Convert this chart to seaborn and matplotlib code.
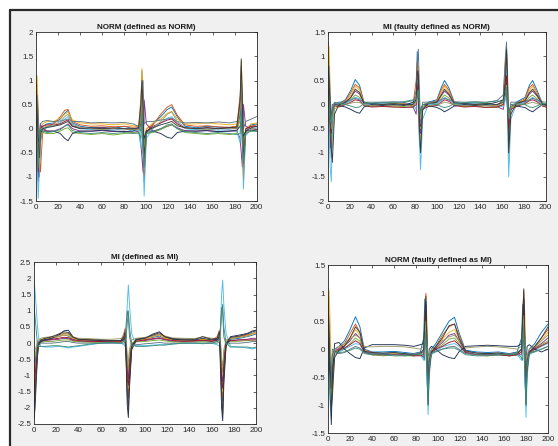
import numpy as np
import pandas as pd
import matplotlib
matplotlib.use("Agg")
import matplotlib.pyplot as plt
import seaborn as sns
from matplotlib.patches import Rectangle
from matplotlib.lines import Line2D

# ---------------- data ----------------
titles = ["NORM (defined as NORM)", "MI (faulty defined as NORM)",
          "MI (defined as MI)", "NORM (faulty defined as MI)"]

x1 = [0, 1, 2, 3, 4, 6, 10, 16, 22, 26, 29, 33, 40, 50, 60, 70, 80, 88, 93, 95, 96, 97, 98, 100, 106, 113, 119, 123, 128, 135, 145, 155, 165, 175, 182, 185, 186, 187, 188, 190, 195, 200]
p1_leads = [
    [1.05, 0.6, -0.4, -1.0, -0.3, 0.05, 0.1, 0.12, 0.2, 0.32, 0.38, 0.12, 0.05, 0.02, 0.03, 0.0, 0.05, 0.0, 0.02, 0.3, 1.2, 0.2, -1.1, -0.1, 0.1, 0.25, 0.4, 0.45, 0.25, 0.05, 0.02, 0.05, 0.03, 0.02, 0.05, 0.5, 1.3, 0.1, -0.9, -0.05, 0.08, 0.1],
    [0.6, 0.9, 0.2, -0.6, -0.9, -0.1, 0.05, 0.1, 0.25, 0.38, 0.4, 0.15, 0.08, 0.05, 0.06, 0.04, 0.05, 0.03, 0.05, 0.6, 1.1, -0.5, -0.7, 0.0, 0.08, 0.3, 0.45, 0.5, 0.28, 0.08, 0.05, 0.06, 0.04, 0.03, 0.05, 0.7, 1.2, -0.3, -0.6, 0.0, 0.05, 0.08],
    [0.9, 1.1, 0.4, -0.5, -0.2, 0.1, 0.15, 0.15, 0.22, 0.3, 0.35, 0.18, 0.12, 0.1, 0.1, 0.08, 0.1, 0.06, 0.05, 0.4, 1.25, 0.6, -0.5, 0.0, 0.12, 0.2, 0.32, 0.36, 0.2, 0.1, 0.1, 0.12, 0.1, 0.08, 0.1, 0.4, 1.4, 0.9, -0.4, 0.0, 0.1, 0.12],
    [-0.3, -0.8, -1.1, -0.6, 0.1, 0.0, -0.05, -0.05, 0.0, 0.05, 0.1, 0.0, -0.05, -0.05, -0.04, -0.06, -0.05, -0.08, -0.05, -0.3, -0.6, -0.9, 0.6, 0.1, -0.05, 0.0, 0.05, 0.08, 0.02, -0.04, -0.05, -0.04, -0.06, -0.05, -0.05, -0.2, -0.5, -0.8, 0.5, 0.05, 0.0, -0.02],
    [0.3, 0.5, 0.1, -0.3, -0.1, -0.08, -0.1, -0.1, -0.05, 0.0, 0.02, -0.08, -0.1, -0.12, -0.1, -0.13, -0.1, -0.08, -0.1, 0.1, 0.5, 0.3, -0.3, -0.1, -0.08, -0.02, 0.05, 0.08, 0.0, -0.08, -0.1, -0.12, -0.1, -0.12, -0.1, 0.2, 0.6, 0.2, -0.2, -0.05, -0.05, -0.03],
    [0.0, -0.6, -1.45, -0.9, -0.2, 0.0, 0.02, 0.05, 0.12, 0.2, 0.25, 0.08, 0.0, -0.02, 0.0, -0.03, 0.0, -0.05, -0.03, -0.4, 0.6, -0.5, -1.4, -0.2, 0.0, 0.12, 0.22, 0.25, 0.12, 0.0, -0.02, 0.0, -0.03, -0.02, -0.05, -0.3, 0.8, -0.4, -1.25, -0.15, 0.0, 0.02],
    [0.5, -0.2, -0.9, -0.4, 0.0, 0.05, 0.08, 0.08, 0.1, 0.15, 0.18, 0.05, 0.02, 0.0, 0.02, 0.0, 0.0, -0.02, 0.0, 0.2, 0.7, -0.3, -0.95, -0.05, 0.05, 0.12, 0.18, 0.2, 0.1, 0.02, 0.0, 0.02, 0.0, 0.02, 0.0, 0.3, 0.95, -0.1, -0.8, 0.0, 0.05, 0.05],
    [0.2, 0.1, -0.2, -0.3, 0.0, -0.05, -0.05, -0.05, -0.1, -0.2, -0.25, -0.1, -0.05, -0.05, -0.03, -0.05, -0.06, -0.05, 0.0, 0.1, 0.2, 0.0, -0.2, -0.05, -0.05, -0.1, -0.18, -0.2, -0.08, -0.05, -0.05, -0.04, -0.06, -0.05, -0.03, 0.05, 0.15, -0.1, -0.15, -0.05, -0.03, -0.05],
    [0.4, 0.7, 0.3, -0.2, 0.1, 0.15, 0.17, 0.15, 0.16, 0.18, 0.2, 0.15, 0.15, 0.12, 0.13, 0.12, 0.13, 0.1, 0.05, -0.05, 0.9, 1.0, 0.1, 0.15, 0.15, 0.18, 0.2, 0.22, 0.15, 0.12, 0.13, 0.12, 0.14, 0.12, 0.15, 0.25, 1.1, 0.7, 0.0, 0.15, 0.2, 0.25],
    [0.7, 0.2, -0.5, -0.8, -0.2, 0.02, 0.05, 0.08, 0.15, 0.25, 0.3, 0.1, 0.02, 0.0, -0.02, 0.0, 0.0, -0.02, -0.02, 0.2, 0.9, 0.0, -1.0, -0.1, 0.02, 0.15, 0.3, 0.35, 0.15, 0.02, 0.0, -0.02, 0.0, 0.0, 0.0, 0.4, 1.15, -0.2, -1.05, -0.1, 0.0, 0.0],
    [0.8, 0.4, -0.3, -0.6, -0.1, 0.0, 0.03, 0.05, 0.08, 0.12, 0.15, 0.05, 0.0, 0.02, 0.0, 0.02, 0.0, 0.0, 0.02, 0.5, 1.0, 0.4, -0.6, -0.05, 0.02, 0.08, 0.12, 0.15, 0.06, 0.02, 0.0, 0.02, 0.0, 0.02, 0.03, 0.6, 1.45, 0.5, -0.7, -0.05, 0.02, 0.05],
    [-0.1, -0.4, -0.8, -0.3, 0.0, -0.05, -0.08, -0.06, -0.02, 0.05, 0.08, -0.04, -0.08, -0.1, -0.08, -0.1, -0.08, -0.1, -0.08, -0.2, 0.3, -0.4, -0.8, -0.1, -0.06, 0.0, 0.08, 0.1, 0.0, -0.06, -0.08, -0.1, -0.08, -0.1, -0.12, -0.1, 0.4, -0.3, -0.7, -0.1, -0.05, -0.05],
]

x2 = [0, 1, 2, 3, 4, 6, 10, 16, 21, 25, 29, 33, 40, 50, 60, 70, 78, 81, 82, 83, 84, 85, 87, 92, 100, 104, 107, 111, 116, 125, 135, 145, 155, 161, 163, 164, 165, 166, 168, 173, 181, 185, 188, 192, 197, 200]
p2_leads = [
    [0.5, 0.2, -0.6, -1.1, -0.4, 0.0, 0.02, 0.1, 0.3, 0.52, 0.4, 0.05, 0.02, 0.03, 0.02, 0.04, 0.0, 0.3, 1.1, 0.2, -0.8, -0.9, -0.1, 0.05, 0.1, 0.35, 0.5, 0.35, 0.05, 0.02, 0.03, 0.02, 0.0, 0.05, 0.6, 1.25, 0.1, -0.9, -0.1, 0.05, 0.15, 0.4, 0.5, 0.3, 0.02, 0.0],
    [1.3, 0.6, -0.3, -0.8, -0.5, -0.05, 0.0, 0.08, 0.25, 0.42, 0.35, 0.05, 0.0, 0.02, 0.0, 0.02, -0.02, 0.5, 0.9, -0.2, -0.6, -0.3, 0.0, 0.03, 0.08, 0.3, 0.42, 0.3, 0.04, 0.0, 0.02, 0.0, -0.02, 0.1, 0.9, 1.0, -0.3, -0.7, -0.05, 0.03, 0.12, 0.35, 0.42, 0.25, 0.0, -0.02],
    [0.9, 1.2, 0.3, -0.4, -0.9, -0.1, 0.0, 0.06, 0.2, 0.38, 0.3, 0.04, 0.0, 0.0, 0.02, 0.0, -0.03, 0.2, 0.6, 0.8, -0.2, -0.9, -0.05, 0.02, 0.06, 0.25, 0.38, 0.25, 0.03, 0.0, 0.0, 0.02, -0.02, 0.0, 0.3, 1.1, 0.7, -1.2, -0.1, 0.02, 0.1, 0.3, 0.38, 0.22, 0.02, 0.0],
    [0.2, -0.3, -0.9, -0.5, 0.0, 0.02, 0.0, 0.05, 0.15, 0.28, 0.22, 0.03, -0.02, 0.0, -0.02, 0.0, -0.04, -0.2, 0.4, 0.7, -0.4, -0.6, 0.0, 0.0, 0.04, 0.18, 0.28, 0.2, 0.02, -0.02, 0.0, -0.02, -0.04, -0.1, 0.2, 0.9, 0.3, -0.8, -0.05, 0.0, 0.08, 0.22, 0.28, 0.18, 0.0, -0.04],
    [0.4, 0.0, -0.5, -0.7, -0.2, 0.0, -0.03, 0.02, 0.1, 0.2, 0.15, 0.0, -0.04, -0.03, -0.05, -0.04, -0.06, 0.1, 0.5, 0.4, -0.3, -0.5, -0.05, -0.03, 0.0, 0.12, 0.2, 0.14, 0.0, -0.04, -0.03, -0.05, -0.06, 0.0, 0.4, 0.8, 0.0, -0.6, -0.05, -0.03, 0.05, 0.15, 0.2, 0.12, -0.02, -0.05],
    [0.0, -0.5, -1.3, -1.6, -0.6, -0.05, 0.0, 0.03, 0.08, 0.15, 0.12, 0.02, 0.0, 0.02, 0.0, 0.0, 0.02, -0.1, 0.5, 0.1, -0.7, -1.35, -0.3, 0.0, 0.02, 0.08, 0.15, 0.1, 0.02, 0.0, 0.02, 0.0, 0.0, -0.05, 0.1, 0.8, -0.4, -1.5, -0.3, 0.0, 0.04, 0.1, 0.15, 0.08, 0.0, 0.0],
    [0.7, 0.1, -0.4, -0.6, -0.2, -0.03, -0.05, 0.0, 0.05, 0.1, 0.08, -0.02, -0.05, -0.04, -0.05, -0.06, -0.05, 0.0, 0.3, 0.5, -0.3, -0.45, -0.1, -0.04, -0.02, 0.05, 0.1, 0.07, -0.02, -0.05, -0.04, -0.06, -0.05, 0.0, 0.3, 0.6, -0.2, -0.5, -0.1, -0.04, 0.02, 0.08, 0.1, 0.06, -0.03, -0.05],
    [0.1, 0.3, 0.1, -0.3, -0.1, 0.0, -0.02, -0.05, -0.1, -0.15, -0.18, -0.05, 0.0, -0.02, 0.0, -0.02, 0.05, 0.1, 0.3, 0.1, -0.2, -0.1, 0.0, -0.02, -0.06, -0.1, -0.15, -0.1, -0.03, 0.0, -0.02, 0.0, 0.05, 0.1, 0.25, 0.3, -0.1, -0.2, 0.0, -0.03, -0.06, -0.12, -0.15, -0.08, 0.0, -0.02],
    [0.3, 0.8, 0.2, -0.3, -0.2, 0.02, 0.05, 0.06, 0.1, 0.13, 0.1, 0.05, 0.05, 0.05, 0.06, 0.05, 0.08, 0.15, 0.8, 1.15, 0.3, -0.4, 0.05, 0.05, 0.06, 0.1, 0.13, 0.1, 0.06, 0.05, 0.06, 0.05, 0.08, 0.2, 1.0, 1.3, 0.4, -0.3, 0.05, 0.05, 0.06, 0.1, 0.13, 0.1, 0.06, 0.05],
    [0.6, 0.3, -0.2, -0.5, -0.3, -0.05, 0.0, 0.0, 0.03, 0.05, 0.04, 0.0, -0.02, 0.0, -0.02, 0.0, -0.03, 0.05, 0.2, 0.3, -0.1, -0.3, -0.05, -0.02, 0.0, 0.02, 0.05, 0.03, 0.0, -0.02, 0.0, -0.02, -0.03, 0.05, 0.2, 0.4, -0.1, -0.3, -0.05, 0.0, 0.0, 0.03, 0.05, 0.02, -0.02, -0.03],
    [0.8, 0.5, -0.1, -0.9, -1.2, -0.2, 0.0, 0.04, 0.15, 0.32, 0.25, 0.03, 0.02, 0.0, 0.02, 0.0, 0.0, 0.1, 0.7, 0.6, -0.5, -1.0, -0.1, 0.02, 0.05, 0.2, 0.32, 0.22, 0.03, 0.02, 0.0, 0.02, 0.0, 0.05, 0.5, 1.15, 0.5, -1.0, -0.2, 0.02, 0.08, 0.25, 0.32, 0.2, 0.02, 0.0],
    [0.2, 0.0, -0.3, -0.4, -0.1, 0.05, 0.03, 0.0, -0.03, -0.06, -0.05, 0.02, 0.03, 0.05, 0.04, 0.06, 0.1, 0.05, 0.2, 0.3, 0.0, -0.2, 0.0, 0.03, 0.0, -0.04, -0.06, -0.04, 0.02, 0.04, 0.05, 0.04, 0.08, 0.05, 0.2, 0.35, 0.0, -0.25, 0.0, 0.02, 0.0, -0.05, -0.06, -0.03, 0.03, 0.02],
]

x3 = [0, 1, 2, 3, 4, 6, 10, 16, 22, 27, 31, 35, 40, 50, 60, 70, 78, 81, 82, 83, 84, 85, 86, 88, 92, 100, 107, 113, 118, 125, 135, 145, 152, 160, 165, 167, 168, 169, 170, 171, 173, 177, 185, 192, 197, 200]
p3_leads = [
    [-1.6, -1.0, -0.5, -0.2, 0.0, 0.08, 0.12, 0.15, 0.2, 0.25, 0.22, 0.12, 0.1, 0.08, 0.06, 0.05, 0.05, 0.2, 0.1, -0.5, -1.5, -1.7, -0.9, -0.1, 0.1, 0.12, 0.18, 0.22, 0.15, 0.1, 0.08, 0.08, 0.1, 0.05, 0.1, 0.2, -0.5, -1.5, -1.8, -0.8, 0.0, 0.12, 0.15, 0.2, 0.25, 0.28],
    [-1.8, -1.4, -0.8, -0.3, 0.0, 0.1, 0.15, 0.18, 0.25, 0.3, 0.28, 0.15, 0.12, 0.1, 0.08, 0.06, 0.05, 0.3, 0.45, 0.2, -0.8, -1.6, -1.2, -0.2, 0.12, 0.15, 0.22, 0.28, 0.18, 0.12, 0.1, 0.08, 0.12, 0.08, 0.2, 0.4, 0.1, -1.0, -1.7, -1.0, -0.1, 0.15, 0.2, 0.25, 0.3, 0.32],
    [-1.2, -0.8, -0.3, 0.0, 0.05, 0.1, 0.15, 0.16, 0.2, 0.25, 0.25, 0.14, 0.1, 0.08, 0.07, 0.05, 0.06, 0.2, 0.3, -0.2, -1.2, -1.4, -0.6, 0.0, 0.1, 0.12, 0.2, 0.25, 0.15, 0.1, 0.09, 0.1, 0.12, 0.1, 0.15, 0.3, -0.3, -1.3, -1.5, -0.5, 0.05, 0.15, 0.18, 0.22, 0.28, 0.3],
    [-0.9, -0.6, -0.3, -0.1, 0.0, 0.05, 0.08, 0.1, 0.12, 0.15, 0.14, 0.08, 0.05, 0.05, 0.04, 0.03, 0.03, 0.1, 0.2, 0.0, -0.9, -1.1, -0.5, -0.05, 0.05, 0.08, 0.12, 0.15, 0.1, 0.06, 0.05, 0.06, 0.08, 0.05, 0.08, 0.15, -0.2, -1.0, -1.2, -0.4, 0.0, 0.08, 0.1, 0.12, 0.15, 0.15],
    [-0.6, -0.4, -0.2, -0.05, 0.0, 0.02, 0.05, 0.05, 0.08, 0.1, 0.1, 0.06, 0.04, 0.03, 0.02, 0.02, 0.02, 0.08, 0.15, 0.0, -0.6, -0.8, -0.3, 0.0, 0.04, 0.05, 0.08, 0.1, 0.07, 0.04, 0.03, 0.04, 0.05, 0.03, 0.05, 0.1, -0.1, -0.7, -0.9, -0.3, 0.0, 0.05, 0.06, 0.08, 0.1, 0.1],
    [2.0, 1.6, 1.1, 0.6, 0.2, -0.1, -0.12, -0.12, -0.1, -0.12, -0.15, -0.12, -0.1, -0.05, 0.0, 0.0, 0.0, -0.05, -0.1, 0.3, 1.2, 1.8, 1.2, 0.3, -0.08, -0.08, -0.06, -0.05, -0.05, -0.02, 0.0, 0.0, -0.02, 0.0, -0.05, -0.1, 0.5, 1.5, 1.95, 1.2, 0.3, -0.1, -0.12, -0.15, -0.18, -0.15],
    [-1.4, -1.0, -0.6, -0.2, 0.0, 0.05, 0.1, 0.12, 0.15, 0.18, 0.17, 0.1, 0.08, 0.06, 0.05, 0.04, 0.04, 0.15, 0.25, 0.0, -1.1, -1.3, -0.7, -0.05, 0.06, 0.1, 0.14, 0.17, 0.12, 0.08, 0.06, 0.07, 0.09, 0.06, 0.1, 0.25, -0.2, -1.2, -1.4, -0.6, 0.0, 0.08, 0.1, 0.1, 0.1, 0.1],
    [-2.35, -2.0, -1.2, -0.5, -0.1, 0.05, 0.1, 0.15, 0.25, 0.38, 0.4, 0.2, 0.12, 0.1, 0.08, 0.07, 0.08, 0.1, 0.2, -0.6, -1.9, -2.3, -1.4, -0.2, 0.1, 0.15, 0.28, 0.35, 0.2, 0.12, 0.1, 0.1, 0.15, 0.1, 0.12, 0.2, -0.8, -2.0, -2.4, -1.3, -0.1, 0.2, 0.25, 0.3, 0.38, 0.4],
    [-0.5, -0.6, -0.4, -0.1, 0.05, 0.0, 0.0, 0.0, 0.02, 0.05, 0.05, 0.02, 0.0, 0.0, 0.0, 0.0, 0.0, 0.05, 0.1, 0.6, 1.0, 0.8, 0.2, -0.1, -0.05, -0.02, 0.0, 0.02, 0.0, 0.0, 0.0, 0.0, 0.0, 0.0, 0.05, 0.1, 0.5, 1.1, 0.9, 0.2, -0.05, 0.0, 0.0, 0.02, 0.05, 0.05],
    [-0.3, -0.2, -0.1, 0.05, 0.1, 0.15, 0.18, 0.2, 0.22, 0.28, 0.3, 0.2, 0.15, 0.14, 0.12, 0.12, 0.14, 0.2, 0.35, 0.2, -0.4, -0.6, -0.2, 0.1, 0.15, 0.18, 0.22, 0.26, 0.22, 0.16, 0.15, 0.14, 0.2, 0.15, 0.15, 0.3, 0.0, -0.5, -0.7, -0.2, 0.1, 0.15, 0.18, 0.22, 0.3, 0.35],
    [-2.0, -1.7, -1.0, -0.4, -0.05, 0.1, 0.15, 0.2, 0.28, 0.35, 0.33, 0.18, 0.12, 0.1, 0.1, 0.08, 0.08, 0.2, 0.35, -0.2, -1.6, -2.1, -1.1, -0.1, 0.12, 0.16, 0.25, 0.32, 0.2, 0.14, 0.12, 0.12, 0.2, 0.12, 0.15, 0.35, -0.3, -1.7, -2.2, -1.0, 0.0, 0.18, 0.22, 0.28, 0.35, 0.38],
    [1.2, 0.8, 0.4, 0.0, -0.1, -0.1, -0.1, -0.08, -0.08, -0.1, -0.12, -0.1, -0.08, -0.03, 0.0, 0.02, 0.0, 0.0, 0.05, 0.2, 0.6, 1.0, 0.5, -0.05, -0.1, -0.1, -0.08, -0.06, -0.06, -0.03, 0.0, 0.0, 0.0, 0.0, 0.0, 0.05, 0.3, 0.9, 1.2, 0.5, 0.0, -0.12, -0.12, -0.12, -0.15, -0.12],
]

x4 = [0, 1, 2, 3, 4, 6, 10, 15, 20, 25, 29, 33, 40, 50, 60, 70, 78, 84, 87, 88, 89, 90, 91, 92, 94, 98, 104, 110, 115, 119, 125, 135, 145, 155, 165, 172, 176, 177, 178, 179, 180, 181, 183, 188, 194, 200]
p4_leads = [
    [0.9, 0.2, -0.7, -1.0, -0.3, 0.0, 0.05, 0.15, 0.35, 0.58, 0.4, 0.0, -0.05, -0.05, -0.04, -0.06, -0.08, -0.05, 0.2, 0.9, 0.3, -0.6, -0.8, -0.2, 0.0, 0.1, 0.3, 0.5, 0.57, 0.3, -0.02, -0.05, -0.06, -0.05, -0.08, -0.05, 0.2, 0.8, 0.2, -0.6, -0.9, -0.2, 0.0, 0.1, 0.3, 0.45],
    [1.1, 0.6, -0.3, -0.8, -0.5, -0.05, 0.02, 0.1, 0.28, 0.45, 0.3, -0.02, -0.06, -0.08, -0.07, -0.08, -0.1, -0.08, 0.0, 0.5, 1.0, 0.0, -0.7, -0.3, -0.05, 0.05, 0.25, 0.4, 0.45, 0.25, -0.04, -0.07, -0.08, -0.07, -0.1, -0.08, 0.0, 0.6, 1.05, 0.1, -0.8, -0.3, -0.05, 0.05, 0.2, 0.35],
    [1.0, 1.05, 0.4, -0.4, -0.9, -0.1, 0.0, 0.08, 0.2, 0.35, 0.25, -0.03, -0.08, -0.1, -0.08, -0.1, -0.1, -0.1, -0.05, 0.3, 0.95, 0.5, -0.5, -0.4, -0.05, 0.03, 0.18, 0.3, 0.35, 0.2, -0.05, -0.08, -0.1, -0.08, -0.1, -0.1, -0.05, 0.3, 1.0, 0.6, -0.5, -0.4, -0.05, 0.03, 0.15, 0.3],
    [0.3, -0.2, -0.8, -0.6, -0.1, 0.0, 0.0, 0.06, 0.15, 0.28, 0.2, -0.04, -0.08, -0.1, -0.09, -0.1, -0.12, -0.1, -0.15, 0.2, 0.7, -0.3, -0.6, -0.1, -0.05, 0.02, 0.12, 0.25, 0.28, 0.15, -0.05, -0.09, -0.1, -0.1, -0.12, -0.1, -0.1, 0.3, 0.75, -0.2, -0.7, -0.15, -0.05, 0.02, 0.1, 0.2],
    [0.5, 0.0, -0.5, -0.7, -0.2, -0.05, -0.04, 0.0, 0.1, 0.2, 0.14, -0.06, -0.1, -0.12, -0.1, -0.12, -0.12, -0.1, -0.05, 0.4, 0.6, -0.2, -0.5, -0.15, -0.08, 0.0, 0.08, 0.18, 0.2, 0.1, -0.07, -0.1, -0.12, -0.1, -0.12, -0.1, 0.0, 0.5, 0.6, -0.1, -0.5, -0.15, -0.08, 0.0, 0.08, 0.15],
    [0.2, -0.4, -1.0, -1.25, -0.6, -0.1, -0.05, 0.0, 0.05, 0.1, 0.08, -0.05, -0.08, -0.08, -0.06, -0.08, -0.1, -0.1, -0.2, 0.1, 0.6, -0.5, -1.17, -0.5, -0.1, -0.03, 0.04, 0.08, 0.1, 0.05, -0.06, -0.08, -0.1, -0.08, -0.1, -0.1, -0.2, 0.1, 0.6, -0.4, -1.22, -0.5, -0.1, -0.03, 0.05, 0.1],
    [0.6, 0.1, -0.4, -0.7, -0.3, -0.05, -0.02, 0.02, 0.08, 0.15, 0.1, -0.05, -0.1, -0.1, -0.1, -0.1, -0.12, -0.12, -0.1, 0.3, 0.8, 0.1, -0.6, -0.2, -0.06, 0.0, 0.05, 0.12, 0.15, 0.08, -0.06, -0.1, -0.1, -0.1, -0.12, -0.1, -0.05, 0.4, 0.9, 0.2, -0.6, -0.2, -0.06, 0.0, 0.06, 0.12],
    [0.2, 0.0, -0.6, -1.35, -0.5, 0.1, 0.12, 0.0, -0.08, -0.15, -0.17, 0.02, 0.08, 0.08, 0.08, 0.07, 0.05, 0.08, 0.1, 0.4, 0.85, 0.2, -0.3, 0.0, 0.05, 0.0, -0.1, -0.15, -0.17, -0.05, 0.05, 0.06, 0.07, 0.06, 0.05, 0.05, 0.1, 0.4, 0.9, 0.0, -0.3, 0.05, 0.08, 0.0, -0.05, 0.0],
    [0.4, 0.2, -0.2, -0.4, -0.1, -0.05, -0.08, -0.06, 0.0, 0.05, 0.02, -0.06, -0.08, -0.08, -0.1, -0.1, -0.08, -0.06, -0.05, 0.1, 0.3, 0.0, -0.3, -0.1, -0.06, -0.04, 0.0, 0.04, 0.05, 0.0, -0.08, -0.1, -0.1, -0.1, -0.08, -0.06, 0.0, 0.2, 0.4, 0.0, -0.3, -0.1, -0.06, -0.04, 0.0, 0.05],
    [0.7, 0.5, 0.0, -0.3, -0.2, 0.0, 0.05, 0.1, 0.18, 0.25, 0.2, 0.05, 0.04, 0.05, 0.05, 0.04, 0.02, 0.0, 0.05, 0.2, 0.5, 0.1, -0.2, -0.1, 0.0, 0.05, 0.15, 0.22, 0.25, 0.15, 0.02, 0.04, 0.05, 0.04, 0.02, 0.0, 0.05, 0.3, 0.6, 0.2, -0.2, -0.1, 0.0, 0.05, 0.15, 0.25],
    [0.8, 0.3, -0.5, -1.1, -0.8, -0.15, -0.02, 0.05, 0.2, 0.4, 0.3, -0.04, -0.06, -0.07, -0.06, -0.08, -0.1, -0.08, 0.0, 0.6, 0.95, -0.2, -1.0, -0.4, -0.05, 0.05, 0.2, 0.42, 0.45, 0.2, -0.03, -0.07, -0.08, -0.07, -0.1, -0.08, 0.0, 0.6, 1.08, -0.1, -1.0, -0.4, -0.05, 0.05, 0.2, 0.4],
    [-0.2, -0.5, -0.9, -0.5, 0.0, -0.02, -0.06, -0.05, -0.02, 0.02, 0.0, -0.08, -0.1, -0.1, -0.12, -0.12, -0.1, -0.08, -0.1, -0.2, 0.3, -0.3, -0.9, -0.3, -0.08, -0.05, 0.0, 0.02, 0.02, -0.02, -0.1, -0.12, -0.12, -0.1, -0.1, -0.08, -0.15, -0.2, 0.4, -0.3, -1.0, -0.3, -0.08, -0.05, 0.0, 0.05],
]

ylims = [(-1.5, 2), (-2, 1.5), (-2.5, 2.5), (-1.5, 1.5)]
yticks = [[-1.5, -1, -0.5, 0, 0.5, 1, 1.5, 2],
          [-2, -1.5, -1, -0.5, 0, 0.5, 1, 1.5],
          [-2.5, -2, -1.5, -1, -0.5, 0, 0.5, 1, 1.5, 2, 2.5],
          [-1.5, -1, -0.5, 0, 0.5, 1, 1.5]]
xticks = [0, 20, 40, 60, 80, 100, 120, 140, 160, 180, 200]

lead_colors = ["#0072BD", "#D95319", "#EDB120", "#7E2F8E", "#77AC30",
               "#4DBEEE", "#A2142F", "#1E2F55", "#5E7585", "#9A9A6A",
               "#3A3A3A", "#3F8F7A"]

# ---------------- figure ----------------
sns.set_style("white")
plt.rcParams["font.family"] = ["Liberation Sans", "DejaVu Sans"]

W, H = 558, 446
fig = plt.figure(figsize=(W / 100, H / 100), dpi=100)
fig.patch.set_facecolor("white")

# MATLAB-style grey figure window with a dark frame on top/left
fig.patches.append(Rectangle((10 / W, 0), 1 - 10 / W, 1 - 10 / H,
                             transform=fig.transFigure, facecolor="#f0f0f0",
                             edgecolor="none", zorder=-10))
fig.lines.append(Line2D([10 / W, 10 / W], [0, 1 - 10 / H], transform=fig.transFigure,
                        color="#2a2a2a", lw=1.6, zorder=-5))
fig.lines.append(Line2D([10 / W, 1], [1 - 10 / H, 1 - 10 / H], transform=fig.transFigure,
                        color="#2a2a2a", lw=1.6, zorder=-5))

positions = [
    [36 / W, 1 - 201 / H, (256.7 - 36) / W, (201 - 32.3) / H],
    [328 / W, 1 - 201 / H, (545.7 - 328) / W, (201 - 32.3) / H],
    [34 / W, 1 - 424 / H, (256 - 34) / W, (424 - 262.3) / H],
    [328 / W, 1 - 433 / H, (548 - 328) / W, (433 - 265.3) / H],
]

panels = [(x1, p1_leads), (x2, p2_leads), (x3, p3_leads), (x4, p4_leads)]

for i, ((xs, leads), pos) in enumerate(zip(panels, positions)):
    for ys in leads:
        assert len(ys) == len(xs), (i, len(ys), len(xs))
    ax = fig.add_axes(pos)
    ax.set_facecolor("white")
    rows = []
    for j, ys in enumerate(leads):
        for xv, yv in zip(xs, ys):
            rows.append({"x": xv, "y": yv, "lead": f"L{j+1:02d}"})
    df = pd.DataFrame(rows)
    sns.lineplot(data=df, x="x", y="y", hue="lead", palette=lead_colors[:len(leads)],
                 estimator=None, sort=False, legend=False, linewidth=0.65, ax=ax)
    ax.set_xlim(0, 200)
    ax.set_ylim(*ylims[i])
    ax.set_xticks(xticks)
    ax.set_yticks(yticks[i])
    ax.set_yticklabels([("%g" % v) for v in yticks[i]])
    ax.set_xlabel("")
    ax.set_ylabel("")
    ax.set_title(titles[i], fontsize=5.8, fontweight="bold", pad=2.5, color="#1a1a1a")
    ax.tick_params(axis="both", which="both", direction="in", length=2.5, width=0.5,
                   labelsize=5.8, colors="#262626", top=True, right=True, pad=2)
    ax.tick_params(labeltop=False, labelright=False)
    for sp in ax.spines.values():
        sp.set_visible(True)
        sp.set_linewidth(0.6)
        sp.set_color("#262626")

fig.savefig("out.png", dpi=100, facecolor=fig.get_facecolor())
